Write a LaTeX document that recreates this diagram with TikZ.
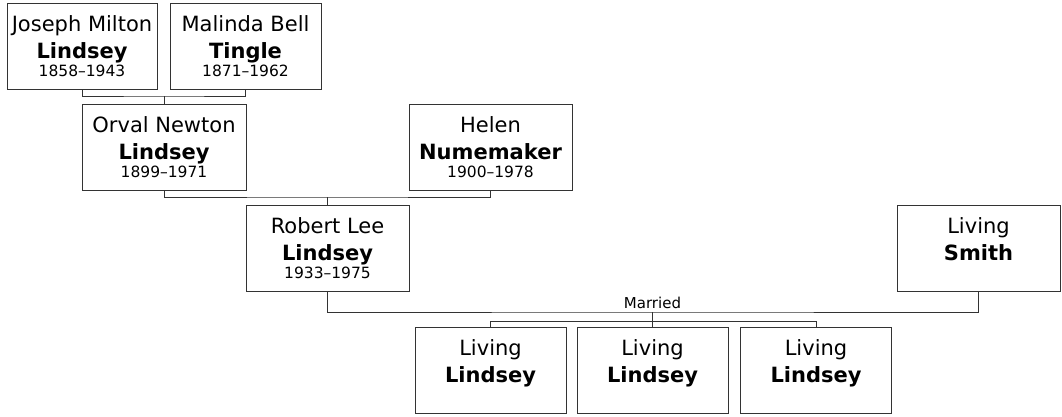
\documentclass[tikz,border=0pt]{standalone}
\usepackage{fontspec}
\setmainfont{DejaVu Sans}
\usepackage{tikz}

\newcommand{\yrs}[1]{{\fontsize{15.5}{18}\selectfont #1}}

\begin{document}
\begin{tikzpicture}[
    x=1pt, y=-1pt,
    person/.style={draw=black!80, line width=1pt, fill=white, align=center, inner sep=0pt,
        minimum height=86pt, font=\fontsize{21}{27}\selectfont},
    narrow/.style={person, minimum width=151pt},
    wide/.style={person, minimum width=163pt},
    link/.style={draw=black!80, line width=1pt}
]
    \useasboundingbox (0,0) rectangle (1062,416);

    \node[narrow, minimum width=150pt] (jos) at (82,46) {Joseph Milton\\\textbf{Lindsey}\\[-9pt]\yrs{1858–1943}};
    \node[narrow] (mal) at (245.5,46) {Malinda Bell\\\textbf{Tingle}\\[-9pt]\yrs{1871–1962}};
    \node[wide, minimum width=164pt] (orv) at (164,147) {Orval Newton\\\textbf{Lindsey}\\[-9pt]\yrs{1899–1971}};
    \node[wide] (hel) at (490.5,147) {Helen\\\textbf{Numemaker}\\[-9pt]\yrs{1900–1978}};
    \node[wide] (rob) at (327.5,248.5) {Robert Lee\\\textbf{Lindsey}\\[-9pt]\yrs{1933–1975}};
    \node[wide] (smi) at (978.5,248) {Living\\\textbf{Smith}\\[-9pt]\mbox{}};

    \node[narrow] (kid1) at (490.5,370) {Living\\\textbf{Lindsey}\\[-9pt]\mbox{}};
    \node[narrow] (kid2) at (652.5,370) {Living\\\textbf{Lindsey}\\[-9pt]\mbox{}};
    \node[narrow] (kid3) at (816,370) {Living\\\textbf{Lindsey}\\[-9pt]\mbox{}};

    \coordinate (pair1) at (164,96);
    \coordinate (pair2) at (327.5,197);
    \coordinate (pair3) at (652.5,312);
    \coordinate (kids) at (652.5,321);

    \draw[link] (jos.south) |- (pair1) -| (mal.south);
    \draw[link] (pair1) -- (orv.north);
    \draw[link] (orv.south) |- (pair2) -| (hel.south);
    \draw[link] (pair2) -- (rob.north);
    \draw[link] (rob.south) |- (pair3) -| (smi.south);
    \node[anchor=south, inner sep=3pt, font=\fontsize{15}{18}\selectfont] (mar) at (pair3) {Married};

    \draw[link] (pair3) -- (kids);
    \draw[link] (kids) -| (kid1.north);
    \draw[link] (kids) -| (kid3.north);
    \draw[link] (kids) -- (kid2.north);
\end{tikzpicture}
\end{document}
